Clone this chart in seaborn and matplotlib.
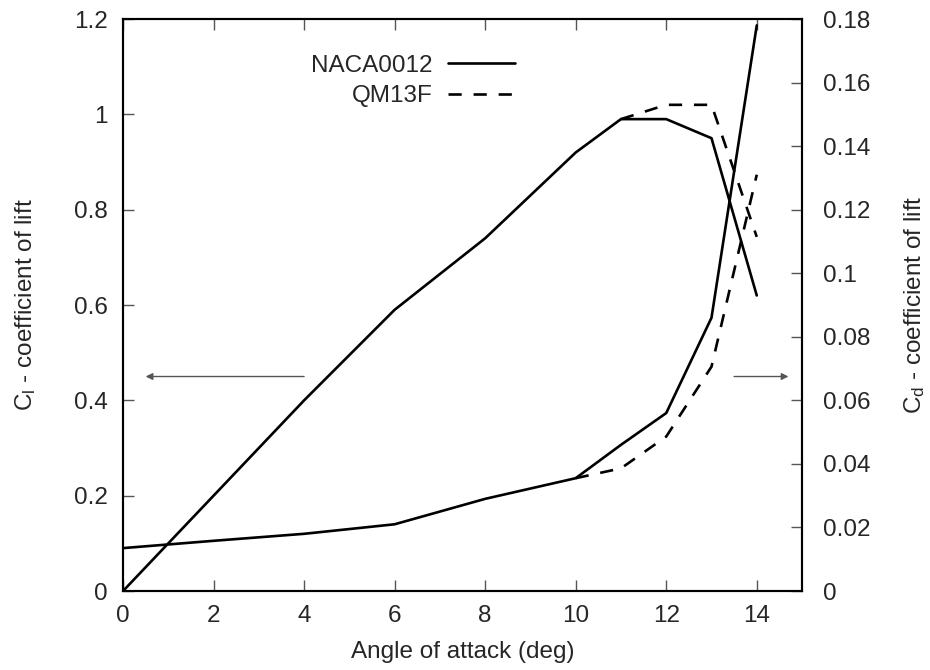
import matplotlib
matplotlib.use("Agg")
import matplotlib.pyplot as plt
from matplotlib.ticker import FuncFormatter, MultipleLocator
import seaborn as sns
import pandas as pd

# ---- data ----
aoa_naca = [0, 2, 4, 6, 8, 10, 11, 12, 13, 14]
cl_naca = [0.0, 0.2, 0.4, 0.59, 0.74, 0.92, 0.99, 0.99, 0.95, 0.62]
cd_naca = [0.0135, 0.0158, 0.018, 0.021, 0.029, 0.0355, 0.046, 0.056, 0.086, 0.178]

aoa_qm_cl = [11, 12, 13, 14]
cl_qm = [0.99, 1.02, 1.02, 0.743]
aoa_qm_cd = [10, 11, 12, 13, 14]
cd_qm = [0.0355, 0.0386, 0.0486, 0.0706, 0.131]

x_ticks = [0, 2, 4, 6, 8, 10, 12, 14]
xlabel = "Angle of attack (deg)"
ylabel_left = r"C$_\mathregular{l}$ - coefficient of lift"
ylabel_right = r"C$_\mathregular{d}$ - coefficient of lift"

sns.set_theme(style="white")
plt.rcParams["font.family"] = ["Liberation Sans", "DejaVu Sans"]
plt.rcParams["mathtext.fontset"] = "custom"
plt.rcParams["mathtext.rm"] = "Liberation Sans"
plt.rcParams["mathtext.it"] = "Liberation Sans"
FS = 17.5

fig = plt.figure(figsize=(9.3, 6.7), dpi=100)
ax = fig.add_axes([0.1323, 0.1179, 0.8624 - 0.1323, 0.9716 - 0.1179])
ax2 = ax.twinx()

lw = 1.9
df_cl_n = pd.DataFrame({"x": aoa_naca, "y": cl_naca})
df_cd_n = pd.DataFrame({"x": aoa_naca, "y": cd_naca})
df_cl_q = pd.DataFrame({"x": aoa_qm_cl, "y": cl_qm})
df_cd_q = pd.DataFrame({"x": aoa_qm_cd, "y": cd_qm})

sns.lineplot(data=df_cl_n, x="x", y="y", ax=ax, color="black", lw=lw, label="NACA0012", legend=False)
sns.lineplot(data=df_cl_q, x="x", y="y", ax=ax, color="black", lw=lw, label="QM13F", legend=False)
ax.lines[-1].set_dashes((5, 4.5))
sns.lineplot(data=df_cd_n, x="x", y="y", ax=ax2, color="black", lw=lw, legend=False)
sns.lineplot(data=df_cd_q, x="x", y="y", ax=ax2, color="black", lw=lw, legend=False)
ax2.lines[-1].set_dashes((5, 4.5))

ax.set_xlim(0, 15)
ax.set_ylim(0, 1.2)
ax2.set_ylim(0, 0.18)
ax.set_xticks(x_ticks)
ax.yaxis.set_major_locator(MultipleLocator(0.2))
ax2.yaxis.set_major_locator(MultipleLocator(0.02))
fmt = FuncFormatter(lambda v, p: "%g" % round(v, 4))
ax.yaxis.set_major_formatter(fmt)
ax2.yaxis.set_major_formatter(fmt)

ax.set_xlabel(xlabel, fontsize=FS, labelpad=10)
ax.set_ylabel(ylabel_left, fontsize=FS, labelpad=26)
ax2.set_ylabel(ylabel_right, fontsize=FS, labelpad=23)

ax.tick_params(axis="x", which="both", direction="in", length=8, width=1, color="#555555",
               top=True, bottom=True, labelsize=FS, pad=10)
ax.tick_params(axis="y", direction="in", length=8, width=1, color="#555555",
               left=True, right=False, labelsize=FS, pad=11)
ax2.tick_params(axis="y", direction="in", length=8, width=1, color="#555555",
                right=True, left=False, labelsize=FS, pad=15)
for a in (ax, ax2):
    for s in a.spines.values():
        s.set_color("black")
        s.set_linewidth(1.5)
    a.grid(False)

# arrows
arrow_kw = dict(arrowstyle="-|>", color="#555555", lw=1.0, mutation_scale=10, shrinkA=0, shrinkB=0)
ax.annotate("", xy=(0.5, 0.45), xytext=(4.0, 0.45), arrowprops=arrow_kw)
ax.annotate("", xy=(14.7, 0.45), xytext=(13.5, 0.45), arrowprops=arrow_kw)

handles = ax.lines[:2]
ax.legend(handles, ["NACA0012", "QM13F"], loc="upper left", bbox_to_anchor=(0.2447, 0.976),
          frameon=False, markerfirst=False, fontsize=FS, handlelength=2.75,
          handletextpad=0.65, labelspacing=0.35)

fig.savefig("out.png", dpi=100)
